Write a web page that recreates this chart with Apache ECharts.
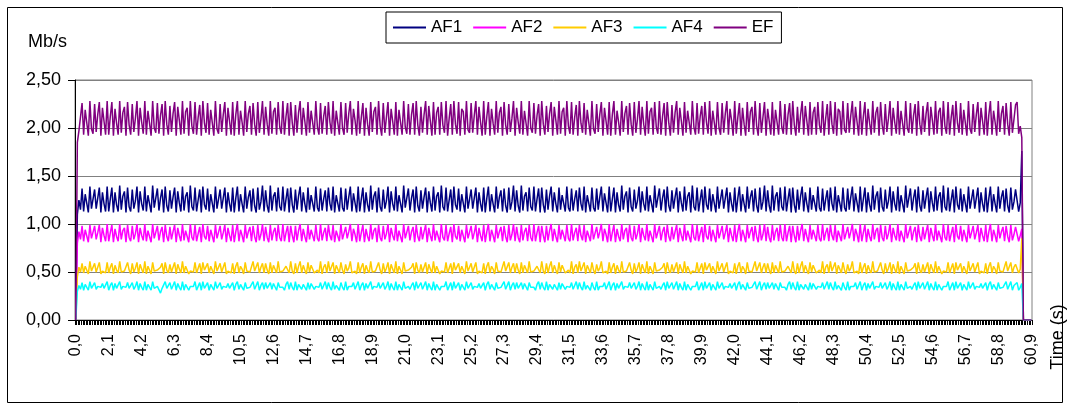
<!DOCTYPE html>
<html><head><meta charset="utf-8">
<script src="https://cdn.jsdelivr.net/npm/echarts@6/dist/echarts.min.js"></script>
<style>html,body{margin:0;padding:0;background:#fff}#c{width:1069px;height:410px}</style>
</head><body><div id="c"></div>
<script>
// time categories 0,0 ... 60,9 (s), step 0,1
const times = Array.from({length: 610}, (_, i) => (i / 10).toFixed(1).replace('.', ','));
const yTicks = [0, 0.5, 1, 1.5, 2, 2.5];
const seriesNames = ['AF1', 'AF2', 'AF3', 'AF4', 'EF'];

const EF = [
0,1.85,1.97,1.95,2.26,1.93,2.19,2.18,1.92,2.28,1.99,1.94,2.25,1.96,2.14,2.27,1.92,2.21,2.07,1.93,
2.28,1.93,2.12,2.27,1.92,2.20,2.05,1.93,2.28,1.95,2.16,2.22,1.92,2.27,2.03,1.93,2.25,1.96,2.10,2.28,
1.92,2.21,2.06,1.94,2.28,1.93,2.18,2.20,1.92,2.28,2.00,1.95,2.26,1.94,2.13,2.25,1.92,2.28,2.04,1.93,
2.23,1.96,2.15,2.27,1.92,2.22,2.08,1.93,2.28,1.94,2.17,2.21,1.92,2.28,2.02,1.94,2.27,1.93,2.11,2.24,
1.92,2.28,2.05,1.95,2.26,1.93,2.19,2.18,1.92,2.28,1.99,1.94,2.25,1.96,2.14,2.27,1.92,2.21,2.07,1.93,
2.27,1.92,2.14,2.28,1.93,2.18,2.06,1.92,2.28,1.96,2.15,2.23,1.93,2.26,2.04,1.92,2.27,1.95,2.09,2.28,
1.93,2.22,2.04,1.92,2.28,1.94,2.17,2.21,1.93,2.27,2.01,1.94,2.28,1.93,2.12,2.26,1.92,2.27,2.05,1.92,
2.24,1.95,2.16,2.28,1.93,2.21,2.07,1.92,2.27,1.95,2.18,2.20,1.93,2.28,2.01,1.93,2.26,1.94,2.12,2.23,
1.93,2.27,2.06,1.94,2.28,1.92,2.18,2.19,1.93,2.27,2.00,1.93,2.26,1.95,2.15,2.28,1.93,2.20,2.08,1.92,
2.28,1.94,2.11,2.26,1.92,2.21,2.04,1.92,2.27,1.96,2.17,2.22,1.93,2.28,2.02,1.92,2.26,1.95,2.11,2.27,
1.92,2.20,2.07,1.93,2.27,1.92,2.19,2.21,1.93,2.28,2.01,1.94,2.25,1.93,2.14,2.26,1.93,2.28,2.03,1.92,
2.22,1.95,2.14,2.28,1.93,2.23,2.07,1.92,2.27,1.93,2.16,2.22,1.93,2.27,2.03,1.95,2.28,1.92,2.10,2.25,
1.93,2.28,2.04,1.94,2.27,1.92,2.20,2.17,1.93,2.28,1.98,1.95,2.26,1.95,2.13,2.28,1.93,2.22,2.06,1.92,
2.28,1.93,2.12,2.27,1.92,2.20,2.05,1.93,2.28,1.95,2.16,2.22,1.92,2.27,2.03,1.93,2.25,1.96,2.10,2.28,
1.92,2.21,2.06,1.94,2.28,1.93,2.18,2.20,1.92,2.28,2.00,1.95,2.26,1.94,2.13,2.25,1.92,2.28,2.04,1.93,
2.23,1.96,2.15,2.27,1.92,2.22,2.08,1.93,2.28,1.94,2.17,2.21,1.92,2.28,2.02,1.94,2.27,1.93,2.11,2.24,
1.92,2.28,2.05,1.95,2.26,1.93,2.19,2.18,1.92,2.28,1.99,1.94,2.25,1.96,2.14,2.27,1.92,2.21,2.07,1.93,
2.27,1.92,2.14,2.28,1.93,2.18,2.06,1.92,2.28,1.96,2.15,2.23,1.93,2.26,2.04,1.92,2.27,1.95,2.09,2.28,
1.93,2.22,2.04,1.92,2.28,1.94,2.17,2.21,1.93,2.27,2.01,1.94,2.28,1.93,2.12,2.26,1.92,2.27,2.05,1.92,
2.24,1.95,2.16,2.28,1.93,2.21,2.07,1.92,2.27,1.95,2.18,2.20,1.93,2.28,2.01,1.93,2.26,1.94,2.12,2.23,
1.93,2.27,2.06,1.94,2.28,1.92,2.18,2.19,1.93,2.27,2.00,1.93,2.26,1.95,2.15,2.28,1.93,2.20,2.08,1.92,
2.28,1.94,2.11,2.26,1.92,2.21,2.04,1.92,2.27,1.96,2.17,2.22,1.93,2.28,2.02,1.92,2.26,1.95,2.11,2.27,
1.92,2.20,2.07,1.93,2.27,1.92,2.19,2.21,1.93,2.28,2.01,1.94,2.25,1.93,2.14,2.26,1.93,2.28,2.03,1.92,
2.22,1.95,2.14,2.28,1.93,2.23,2.07,1.92,2.27,1.93,2.16,2.22,1.93,2.27,2.03,1.95,2.28,1.92,2.10,2.25,
1.93,2.28,2.04,1.94,2.27,1.92,2.20,2.17,1.93,2.28,1.98,1.95,2.26,1.95,2.13,2.28,1.93,2.22,2.06,1.92,
2.28,1.93,2.12,2.27,1.92,2.20,2.05,1.93,2.28,1.95,2.16,2.22,1.92,2.27,2.03,1.93,2.25,1.96,2.10,2.28,
1.92,2.21,2.06,1.94,2.28,1.93,2.18,2.20,1.92,2.28,2.00,1.95,2.26,1.94,2.13,2.25,1.92,2.28,2.04,1.93,
2.23,1.96,2.15,2.27,1.92,2.22,2.08,1.93,2.28,1.94,2.17,2.21,1.92,2.28,2.02,1.94,2.27,1.93,2.11,2.24,
1.92,2.28,2.05,1.95,2.26,1.93,2.19,2.18,1.92,2.28,1.99,1.94,2.25,1.96,2.14,2.27,1.92,2.21,2.07,1.93,
2.27,1.92,2.14,2.28,1.93,2.18,2.06,1.92,2.28,1.96,2.15,2.23,1.93,2.26,2.04,1.92,2.27,1.95,2.09,2.24,
2.27,1.94,2.02,1.90,0,0,0,0,0,0
];

const AF1 = [
0,1.10,1.25,1.15,1.37,1.13,1.31,1.30,1.12,1.39,1.16,1.14,1.36,1.16,1.27,1.38,1.12,1.33,1.21,1.13,
1.39,1.13,1.26,1.38,1.12,1.33,1.20,1.13,1.40,1.15,1.29,1.34,1.12,1.38,1.18,1.13,1.36,1.16,1.24,1.39,
1.12,1.34,1.21,1.14,1.39,1.13,1.30,1.32,1.12,1.40,1.17,1.15,1.37,1.14,1.27,1.36,1.12,1.39,1.19,1.13,
1.35,1.16,1.28,1.38,1.12,1.34,1.22,1.13,1.39,1.14,1.29,1.33,1.12,1.40,1.18,1.14,1.38,1.13,1.25,1.36,
1.12,1.39,1.20,1.15,1.37,1.13,1.31,1.30,1.12,1.39,1.16,1.14,1.36,1.16,1.27,1.38,1.12,1.33,1.21,1.13,
1.38,1.12,1.27,1.39,1.13,1.31,1.21,1.12,1.39,1.16,1.28,1.35,1.13,1.37,1.19,1.12,1.38,1.15,1.23,1.40,
1.13,1.35,1.19,1.12,1.40,1.14,1.29,1.33,1.13,1.38,1.18,1.14,1.39,1.13,1.26,1.37,1.12,1.38,1.20,1.12,
1.36,1.15,1.29,1.39,1.13,1.33,1.21,1.12,1.38,1.15,1.30,1.32,1.13,1.39,1.17,1.13,1.37,1.14,1.26,1.35,
1.13,1.38,1.21,1.14,1.39,1.12,1.30,1.31,1.13,1.38,1.17,1.13,1.37,1.15,1.28,1.39,1.13,1.32,1.22,1.12,
1.39,1.13,1.26,1.38,1.12,1.33,1.20,1.13,1.40,1.15,1.29,1.34,1.12,1.38,1.18,1.13,1.36,1.16,1.24,1.39,
1.12,1.34,1.21,1.14,1.39,1.13,1.30,1.32,1.12,1.40,1.17,1.15,1.37,1.14,1.27,1.36,1.12,1.39,1.19,1.13,
1.35,1.16,1.28,1.38,1.12,1.34,1.22,1.13,1.39,1.14,1.29,1.33,1.12,1.40,1.18,1.14,1.38,1.13,1.25,1.36,
1.12,1.39,1.20,1.15,1.37,1.13,1.31,1.30,1.12,1.39,1.16,1.14,1.36,1.16,1.27,1.38,1.12,1.33,1.21,1.13,
1.38,1.12,1.27,1.39,1.13,1.31,1.21,1.12,1.39,1.16,1.28,1.35,1.13,1.37,1.19,1.12,1.38,1.15,1.23,1.40,
1.13,1.35,1.19,1.12,1.40,1.14,1.29,1.33,1.13,1.38,1.18,1.14,1.39,1.13,1.26,1.37,1.12,1.38,1.20,1.12,
1.36,1.15,1.29,1.39,1.13,1.33,1.21,1.12,1.38,1.15,1.30,1.32,1.13,1.39,1.17,1.13,1.37,1.14,1.26,1.35,
1.13,1.38,1.21,1.14,1.39,1.12,1.30,1.31,1.13,1.38,1.17,1.13,1.37,1.15,1.28,1.39,1.13,1.32,1.22,1.12,
1.39,1.13,1.26,1.38,1.12,1.33,1.20,1.13,1.40,1.15,1.29,1.34,1.12,1.38,1.18,1.13,1.36,1.16,1.24,1.39,
1.12,1.34,1.21,1.14,1.39,1.13,1.30,1.32,1.12,1.40,1.17,1.15,1.37,1.14,1.27,1.36,1.12,1.39,1.19,1.13,
1.35,1.16,1.28,1.38,1.12,1.34,1.22,1.13,1.39,1.14,1.29,1.33,1.12,1.40,1.18,1.14,1.38,1.13,1.25,1.36,
1.12,1.39,1.20,1.15,1.37,1.13,1.31,1.30,1.12,1.39,1.16,1.14,1.36,1.16,1.27,1.38,1.12,1.33,1.21,1.13,
1.38,1.12,1.27,1.39,1.13,1.31,1.21,1.12,1.39,1.16,1.28,1.35,1.13,1.37,1.19,1.12,1.38,1.15,1.23,1.40,
1.13,1.35,1.19,1.12,1.40,1.14,1.29,1.33,1.13,1.38,1.18,1.14,1.39,1.13,1.26,1.37,1.12,1.38,1.20,1.12,
1.36,1.15,1.29,1.39,1.13,1.33,1.21,1.12,1.38,1.15,1.30,1.32,1.13,1.39,1.17,1.13,1.37,1.14,1.26,1.35,
1.13,1.38,1.21,1.14,1.39,1.12,1.30,1.31,1.13,1.38,1.17,1.13,1.37,1.15,1.28,1.39,1.13,1.32,1.22,1.12,
1.39,1.13,1.26,1.38,1.12,1.33,1.20,1.13,1.40,1.15,1.29,1.34,1.12,1.38,1.18,1.13,1.36,1.16,1.24,1.39,
1.12,1.34,1.21,1.14,1.39,1.13,1.30,1.32,1.12,1.40,1.17,1.15,1.37,1.14,1.27,1.36,1.12,1.39,1.19,1.13,
1.35,1.16,1.28,1.38,1.12,1.34,1.22,1.13,1.39,1.14,1.29,1.33,1.12,1.40,1.18,1.14,1.38,1.13,1.25,1.36,
1.12,1.39,1.20,1.15,1.37,1.13,1.31,1.30,1.12,1.39,1.16,1.14,1.36,1.16,1.27,1.38,1.12,1.33,1.21,1.13,
1.38,1.12,1.27,1.39,1.13,1.31,1.21,1.12,1.39,1.16,1.28,1.35,1.13,1.37,1.19,1.12,1.38,1.15,1.23,1.36,
1.38,1.13,1.22,1.76,0,0,0,0,0,0
];

const AF2 = [
0,0.80,0.92,0.84,0.98,0.82,0.94,0.94,0.81,0.99,0.85,0.83,0.98,0.84,0.91,0.99,0.81,0.96,0.88,0.82,
1.00,0.82,0.91,0.99,0.81,0.95,0.87,0.82,1.00,0.84,0.93,0.96,0.81,0.99,0.86,0.82,0.98,0.84,0.90,1.00,
0.81,0.96,0.88,0.83,1.00,0.82,0.93,0.95,0.81,1.00,0.85,0.83,0.98,0.83,0.92,0.97,0.81,0.99,0.87,0.82,
0.97,0.84,0.92,0.99,0.81,0.96,0.88,0.82,1.00,0.83,0.93,0.95,0.81,1.00,0.86,0.83,0.99,0.82,0.90,0.97,
0.81,1.00,0.87,0.84,0.98,0.82,0.94,0.94,0.81,0.99,0.85,0.83,0.98,0.84,0.91,0.99,0.81,0.96,0.88,0.82,
0.99,0.81,0.92,1.00,0.82,0.94,0.88,0.81,0.99,0.85,0.92,0.97,0.82,0.98,0.87,0.81,0.99,0.83,0.89,1.00,
0.82,0.97,0.86,0.81,0.99,0.83,0.92,0.96,0.82,0.99,0.86,0.82,1.00,0.82,0.91,0.98,0.81,0.98,0.88,0.81,
0.98,0.83,0.93,1.00,0.82,0.95,0.87,0.81,0.99,0.84,0.94,0.94,0.82,0.99,0.85,0.82,1.00,0.83,0.91,0.96,
0.82,0.99,0.88,0.83,0.99,0.81,0.93,0.95,0.82,1.00,0.84,0.82,0.97,0.85,0.92,1.00,0.82,0.95,0.89,0.81,
1.00,0.82,0.91,0.99,0.81,0.95,0.87,0.82,1.00,0.84,0.93,0.96,0.81,0.99,0.86,0.82,0.98,0.84,0.90,1.00,
0.81,0.96,0.88,0.83,1.00,0.82,0.93,0.95,0.81,1.00,0.85,0.83,0.98,0.83,0.92,0.97,0.81,0.99,0.87,0.82,
0.97,0.84,0.92,0.99,0.81,0.96,0.88,0.82,1.00,0.83,0.93,0.95,0.81,1.00,0.86,0.83,0.99,0.82,0.90,0.97,
0.81,1.00,0.87,0.84,0.98,0.82,0.94,0.94,0.81,0.99,0.85,0.83,0.98,0.84,0.91,0.99,0.81,0.96,0.88,0.82,
0.99,0.81,0.92,1.00,0.82,0.94,0.88,0.81,0.99,0.85,0.92,0.97,0.82,0.98,0.87,0.81,0.99,0.83,0.89,1.00,
0.82,0.97,0.86,0.81,0.99,0.83,0.92,0.96,0.82,0.99,0.86,0.82,1.00,0.82,0.91,0.98,0.81,0.98,0.88,0.81,
0.98,0.83,0.93,1.00,0.82,0.95,0.87,0.81,0.99,0.84,0.94,0.94,0.82,0.99,0.85,0.82,1.00,0.83,0.91,0.96,
0.82,0.99,0.88,0.83,0.99,0.81,0.93,0.95,0.82,1.00,0.84,0.82,0.97,0.85,0.92,1.00,0.82,0.95,0.89,0.81,
1.00,0.82,0.91,0.99,0.81,0.95,0.87,0.82,1.00,0.84,0.93,0.96,0.81,0.99,0.86,0.82,0.98,0.84,0.90,1.00,
0.81,0.96,0.88,0.83,1.00,0.82,0.93,0.95,0.81,1.00,0.85,0.83,0.98,0.83,0.92,0.97,0.81,0.99,0.87,0.82,
0.97,0.84,0.92,0.99,0.81,0.96,0.88,0.82,1.00,0.83,0.93,0.95,0.81,1.00,0.86,0.83,0.99,0.82,0.90,0.97,
0.81,1.00,0.87,0.84,0.98,0.82,0.94,0.94,0.81,0.99,0.85,0.83,0.98,0.84,0.91,0.99,0.81,0.96,0.88,0.82,
0.99,0.81,0.92,1.00,0.82,0.94,0.88,0.81,0.99,0.85,0.92,0.97,0.82,0.98,0.87,0.81,0.99,0.83,0.89,1.00,
0.82,0.97,0.86,0.81,0.99,0.83,0.92,0.96,0.82,0.99,0.86,0.82,1.00,0.82,0.91,0.98,0.81,0.98,0.88,0.81,
0.98,0.83,0.93,1.00,0.82,0.95,0.87,0.81,0.99,0.84,0.94,0.94,0.82,0.99,0.85,0.82,1.00,0.83,0.91,0.96,
0.82,0.99,0.88,0.83,0.99,0.81,0.93,0.95,0.82,1.00,0.84,0.82,0.97,0.85,0.92,1.00,0.82,0.95,0.89,0.81,
1.00,0.82,0.91,0.99,0.81,0.95,0.87,0.82,1.00,0.84,0.93,0.96,0.81,0.99,0.86,0.82,0.98,0.84,0.90,1.00,
0.81,0.96,0.88,0.83,1.00,0.82,0.93,0.95,0.81,1.00,0.85,0.83,0.98,0.83,0.92,0.97,0.81,0.99,0.87,0.82,
0.97,0.84,0.92,0.99,0.81,0.96,0.88,0.82,1.00,0.83,0.93,0.95,0.81,1.00,0.86,0.83,0.99,0.82,0.90,0.97,
0.81,1.00,0.87,0.84,0.98,0.82,0.94,0.94,0.81,0.99,0.85,0.83,0.98,0.84,0.91,0.99,0.81,0.96,0.88,0.82,
0.99,0.81,0.92,1.00,0.82,0.94,0.88,0.81,0.99,0.85,0.92,0.97,0.82,0.98,0.87,0.81,0.99,0.83,0.89,0.97,
0.99,0.82,0.88,0.95,0,0,0,0,0,0
];

const AF3 = [
0,0.45,0.55,0.50,0.59,0.49,0.56,0.56,0.48,0.61,0.51,0.49,0.59,0.50,0.55,0.60,0.48,0.51,0.50,0.49,
0.60,0.49,0.55,0.59,0.48,0.57,0.52,0.49,0.61,0.50,0.50,0.51,0.49,0.60,0.52,0.48,0.59,0.50,0.54,0.60,
0.48,0.58,0.53,0.49,0.61,0.48,0.56,0.57,0.48,0.60,0.51,0.50,0.52,0.50,0.55,0.59,0.48,0.60,0.52,0.49,
0.58,0.50,0.55,0.60,0.48,0.58,0.53,0.49,0.61,0.49,0.56,0.57,0.48,0.51,0.51,0.50,0.60,0.49,0.54,0.59,
0.48,0.60,0.52,0.50,0.59,0.49,0.56,0.56,0.48,0.61,0.51,0.49,0.59,0.50,0.55,0.60,0.48,0.51,0.50,0.49,
0.59,0.48,0.56,0.60,0.49,0.56,0.53,0.48,0.60,0.51,0.51,0.50,0.50,0.61,0.51,0.49,0.60,0.49,0.55,0.59,
0.49,0.59,0.52,0.48,0.60,0.49,0.57,0.56,0.49,0.61,0.50,0.51,0.51,0.49,0.56,0.58,0.49,0.61,0.51,0.48,
0.59,0.49,0.56,0.61,0.49,0.57,0.52,0.48,0.60,0.50,0.57,0.56,0.49,0.50,0.52,0.49,0.61,0.48,0.55,0.58,
0.49,0.61,0.51,0.49,0.60,0.48,0.57,0.55,0.49,0.60,0.52,0.48,0.58,0.51,0.54,0.61,0.49,0.50,0.51,0.48,
0.60,0.49,0.55,0.59,0.48,0.57,0.52,0.49,0.61,0.50,0.50,0.51,0.49,0.60,0.52,0.48,0.59,0.50,0.54,0.60,
0.48,0.58,0.53,0.49,0.61,0.48,0.56,0.57,0.48,0.60,0.51,0.50,0.52,0.50,0.55,0.59,0.48,0.60,0.52,0.49,
0.58,0.50,0.55,0.60,0.48,0.58,0.53,0.49,0.61,0.49,0.56,0.57,0.48,0.51,0.51,0.50,0.60,0.49,0.54,0.59,
0.48,0.60,0.52,0.50,0.59,0.49,0.56,0.56,0.48,0.61,0.51,0.49,0.59,0.50,0.55,0.60,0.48,0.51,0.50,0.49,
0.59,0.48,0.56,0.60,0.49,0.56,0.53,0.48,0.60,0.51,0.51,0.50,0.50,0.61,0.51,0.49,0.60,0.49,0.55,0.59,
0.49,0.59,0.52,0.48,0.60,0.49,0.57,0.56,0.49,0.61,0.50,0.51,0.51,0.49,0.56,0.58,0.49,0.61,0.51,0.48,
0.59,0.49,0.56,0.61,0.49,0.57,0.52,0.48,0.60,0.50,0.57,0.56,0.49,0.50,0.52,0.49,0.61,0.48,0.55,0.58,
0.49,0.61,0.51,0.49,0.60,0.48,0.57,0.55,0.49,0.60,0.52,0.48,0.58,0.51,0.54,0.61,0.49,0.50,0.51,0.48,
0.60,0.49,0.55,0.59,0.48,0.57,0.52,0.49,0.61,0.50,0.50,0.51,0.49,0.60,0.52,0.48,0.59,0.50,0.54,0.60,
0.48,0.58,0.53,0.49,0.61,0.48,0.56,0.57,0.48,0.60,0.51,0.50,0.52,0.50,0.55,0.59,0.48,0.60,0.52,0.49,
0.58,0.50,0.55,0.60,0.48,0.58,0.53,0.49,0.61,0.49,0.56,0.57,0.48,0.51,0.51,0.50,0.60,0.49,0.54,0.59,
0.48,0.60,0.52,0.50,0.59,0.49,0.56,0.56,0.48,0.61,0.51,0.49,0.59,0.50,0.55,0.60,0.48,0.51,0.50,0.49,
0.59,0.48,0.56,0.60,0.49,0.56,0.53,0.48,0.60,0.51,0.51,0.50,0.50,0.61,0.51,0.49,0.60,0.49,0.55,0.59,
0.49,0.59,0.52,0.48,0.60,0.49,0.57,0.56,0.49,0.61,0.50,0.51,0.51,0.49,0.56,0.58,0.49,0.61,0.51,0.48,
0.59,0.49,0.56,0.61,0.49,0.57,0.52,0.48,0.60,0.50,0.57,0.56,0.49,0.50,0.52,0.49,0.61,0.48,0.55,0.58,
0.49,0.61,0.51,0.49,0.60,0.48,0.57,0.55,0.49,0.60,0.52,0.48,0.58,0.51,0.54,0.61,0.49,0.50,0.51,0.48,
0.60,0.49,0.55,0.59,0.48,0.57,0.52,0.49,0.61,0.50,0.50,0.51,0.49,0.60,0.52,0.48,0.59,0.50,0.54,0.60,
0.48,0.58,0.53,0.49,0.61,0.48,0.56,0.57,0.48,0.60,0.51,0.50,0.52,0.50,0.55,0.59,0.48,0.60,0.52,0.49,
0.58,0.50,0.55,0.60,0.48,0.58,0.53,0.49,0.61,0.49,0.56,0.57,0.48,0.51,0.51,0.50,0.60,0.49,0.54,0.59,
0.48,0.60,0.52,0.50,0.59,0.49,0.56,0.56,0.48,0.61,0.51,0.49,0.59,0.50,0.55,0.60,0.48,0.51,0.50,0.49,
0.59,0.48,0.56,0.60,0.49,0.56,0.53,0.48,0.60,0.51,0.51,0.50,0.50,0.61,0.51,0.49,0.60,0.49,0.55,0.58,
0.59,0.49,0.53,0.85,0,0,0,0,0,0
];

const AF4 = [
0,0.30,0.36,0.32,0.39,0.31,0.37,0.37,0.31,0.40,0.33,0.31,0.39,0.32,0.35,0.35,0.34,0.38,0.33,0.31,
0.40,0.31,0.36,0.39,0.31,0.38,0.33,0.31,0.40,0.32,0.35,0.35,0.34,0.39,0.33,0.31,0.39,0.32,0.35,0.40,
0.31,0.38,0.34,0.31,0.40,0.31,0.37,0.38,0.31,0.40,0.33,0.35,0.35,0.33,0.28,0.33,0.31,0.40,0.33,0.31,
0.39,0.32,0.36,0.40,0.31,0.38,0.34,0.31,0.40,0.31,0.37,0.38,0.31,0.35,0.34,0.35,0.40,0.31,0.35,0.39,
0.31,0.40,0.33,0.32,0.39,0.31,0.37,0.37,0.31,0.40,0.33,0.31,0.39,0.32,0.35,0.35,0.34,0.38,0.33,0.31,
0.39,0.31,0.37,0.40,0.32,0.37,0.34,0.31,0.39,0.33,0.35,0.34,0.35,0.40,0.32,0.31,0.40,0.31,0.36,0.39,
0.32,0.39,0.33,0.31,0.39,0.32,0.38,0.37,0.31,0.39,0.34,0.35,0.34,0.31,0.37,0.40,0.32,0.39,0.34,0.31,
0.40,0.31,0.37,0.39,0.32,0.37,0.35,0.31,0.39,0.32,0.38,0.37,0.32,0.35,0.35,0.34,0.39,0.32,0.36,0.40,
0.32,0.39,0.34,0.31,0.40,0.32,0.36,0.38,0.31,0.39,0.34,0.31,0.40,0.31,0.35,0.34,0.35,0.39,0.32,0.31,
0.40,0.31,0.36,0.39,0.31,0.38,0.33,0.31,0.40,0.32,0.35,0.35,0.34,0.39,0.33,0.31,0.39,0.32,0.35,0.40,
0.31,0.38,0.34,0.31,0.40,0.31,0.37,0.38,0.31,0.40,0.33,0.35,0.35,0.32,0.36,0.39,0.31,0.40,0.33,0.31,
0.39,0.32,0.36,0.40,0.31,0.38,0.34,0.31,0.40,0.31,0.37,0.38,0.31,0.35,0.34,0.35,0.40,0.31,0.35,0.39,
0.31,0.40,0.33,0.32,0.39,0.31,0.37,0.37,0.31,0.40,0.33,0.31,0.39,0.32,0.35,0.35,0.34,0.38,0.33,0.31,
0.39,0.31,0.37,0.40,0.32,0.37,0.34,0.31,0.39,0.33,0.35,0.34,0.35,0.40,0.32,0.31,0.40,0.31,0.36,0.39,
0.32,0.39,0.33,0.31,0.39,0.32,0.38,0.37,0.31,0.39,0.34,0.35,0.34,0.31,0.37,0.40,0.32,0.39,0.34,0.31,
0.40,0.31,0.37,0.39,0.32,0.37,0.35,0.31,0.39,0.32,0.38,0.37,0.32,0.35,0.35,0.34,0.39,0.32,0.36,0.40,
0.32,0.39,0.34,0.31,0.40,0.32,0.36,0.38,0.31,0.39,0.34,0.31,0.40,0.31,0.35,0.34,0.35,0.39,0.32,0.31,
0.40,0.31,0.36,0.39,0.31,0.38,0.33,0.31,0.40,0.32,0.35,0.35,0.34,0.39,0.33,0.31,0.39,0.32,0.35,0.40,
0.31,0.38,0.34,0.31,0.40,0.31,0.37,0.38,0.31,0.40,0.33,0.35,0.35,0.32,0.36,0.39,0.31,0.40,0.33,0.31,
0.39,0.32,0.36,0.40,0.31,0.38,0.34,0.31,0.40,0.31,0.37,0.38,0.31,0.35,0.34,0.35,0.40,0.31,0.35,0.39,
0.31,0.40,0.33,0.32,0.39,0.31,0.37,0.37,0.31,0.40,0.33,0.31,0.39,0.32,0.35,0.35,0.34,0.38,0.33,0.31,
0.39,0.31,0.37,0.40,0.32,0.37,0.34,0.31,0.39,0.33,0.35,0.34,0.35,0.40,0.32,0.31,0.40,0.31,0.36,0.39,
0.32,0.39,0.33,0.31,0.39,0.32,0.38,0.37,0.31,0.39,0.34,0.35,0.34,0.31,0.37,0.40,0.32,0.39,0.34,0.31,
0.40,0.31,0.37,0.39,0.32,0.37,0.35,0.31,0.39,0.32,0.38,0.37,0.32,0.35,0.35,0.34,0.39,0.32,0.36,0.40,
0.32,0.39,0.34,0.31,0.40,0.32,0.36,0.38,0.31,0.39,0.34,0.31,0.40,0.31,0.35,0.34,0.35,0.39,0.32,0.31,
0.40,0.31,0.36,0.39,0.31,0.38,0.33,0.31,0.40,0.32,0.35,0.35,0.34,0.39,0.33,0.31,0.39,0.32,0.35,0.40,
0.31,0.38,0.34,0.31,0.40,0.31,0.37,0.38,0.31,0.40,0.33,0.35,0.35,0.32,0.36,0.39,0.31,0.40,0.33,0.31,
0.39,0.32,0.36,0.40,0.31,0.38,0.34,0.31,0.40,0.31,0.37,0.38,0.31,0.35,0.34,0.35,0.40,0.31,0.35,0.39,
0.31,0.40,0.33,0.32,0.39,0.31,0.37,0.37,0.31,0.40,0.33,0.31,0.39,0.32,0.35,0.35,0.34,0.38,0.33,0.31,
0.39,0.31,0.37,0.40,0.32,0.37,0.34,0.31,0.39,0.33,0.35,0.34,0.35,0.40,0.32,0.31,0.40,0.31,0.36,0.37,
0.39,0.31,0.34,0.38,0,0,0,0,0,0
];

const colors = ['#000080', '#FF00FF', '#FFCC00', '#00FFFF', '#800080'];
const dataSets = [AF1, AF2, AF3, AF4, EF];
const FONT = '"Liberation Sans", Arial, sans-serif';

const chart = echarts.init(document.getElementById('c'), null, {renderer: 'canvas'});
chart.setOption({
  animation: false,
  backgroundColor: '#ffffff',
  textStyle: {fontFamily: FONT},
  grid: {left: 75, right: 37, top: 80, bottom: 90, show: true, borderColor: '#808080', borderWidth: 1},
  legend: {
    data: seriesNames,
    left: 386, top: 12,
    padding: [7, 8, 7, 7],
    itemGap: 11, itemWidth: 33, itemHeight: 2,
    icon: 'rect',
    borderColor: '#000', borderWidth: 1,
    textStyle: {fontSize: 17, color: '#000', fontFamily: FONT}
  },
  xAxis: {
    type: 'category',
    data: times,
    boundaryGap: true,
    axisLine: {show: true, lineStyle: {color: '#000', width: 1}},
    axisTick: {show: true, interval: 0, length: 5, inside: false, lineStyle: {color: '#000', width: 1}},
    axisLabel: {show: true, interval: 20, rotate: 90, fontSize: 16, color: '#000', margin: 14, fontFamily: FONT},
    splitLine: {show: false}
  },
  yAxis: {
    type: 'value',
    min: yTicks[0], max: yTicks[yTicks.length - 1], interval: 0.5,
    axisLine: {show: true, lineStyle: {color: '#000'}},
    axisTick: {show: true, length: 7, lineStyle: {color: '#000'}},
    axisLabel: {fontSize: 18, color: '#000', margin: 14, fontFamily: FONT,
      formatter: v => v.toFixed(2).replace('.', ',')},
    splitLine: {lineStyle: {color: '#808080', width: 1}}
  },
  series: seriesNames.map((n, k) => ({
    name: n, type: 'line', data: dataSets[k],
    symbol: 'none', showSymbol: false,
    lineStyle: {color: colors[k], width: 1.5},
    itemStyle: {color: colors[k]},
    z: 2 + k
  })),
  graphic: [
    {type: 'rect', shape: {x: 7.5, y: 7.5, width: 1055, height: 395}, style: {fill: 'none', stroke: '#000', lineWidth: 1}, silent: true},
    {type: 'text', left: 28, top: 33, style: {text: 'Mb/s', fontSize: 18, fill: '#000', fontFamily: FONT}},
    {type: 'text', x: 1058, y: 337, rotation: Math.PI / 2,
     style: {text: 'Time (s)', fontSize: 18, fill: '#000', fontFamily: FONT, align: 'center', verticalAlign: 'middle'}}
  ]
});
</script>
</body></html>
